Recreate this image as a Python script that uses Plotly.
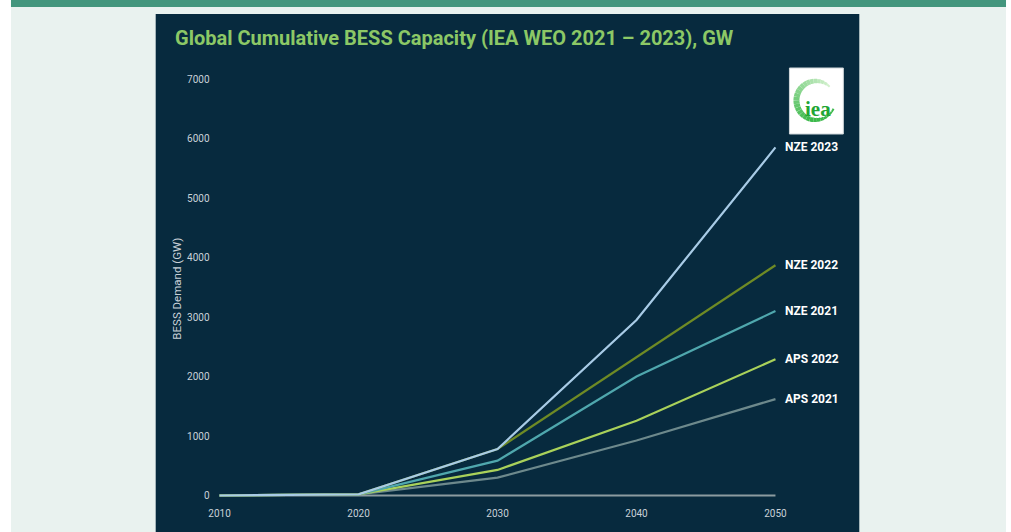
import numpy as np
import plotly.graph_objects as go

W, H = 1011, 532

years = [2010, 2020, 2030, 2040, 2050]
nze_2023 = [0, 20, 780, 2950, 5850]
nze_2022 = [0, 20, 780, 2320, 3870]
nze_2021 = [0, 20, 585, 2000, 3100]
aps_2022 = [0, 20, 430, 1255, 2290]
aps_2021 = [0, 20, 300, 925, 1620]

series = [
    ("APS 2021", aps_2021, "#6d898c"),
    ("APS 2022", aps_2022, "#a9d15a"),
    ("NZE 2021", nze_2021, "#4fa7ad"),
    ("NZE 2022", nze_2022, "#6e8a25"),
    ("NZE 2023", nze_2023, "#a8cbe6"),
]

y_ticks = [0, 1000, 2000, 3000, 4000, 5000, 6000, 7000]
x_ticks = [2010, 2020, 2030, 2040, 2050]

BG = "#072a3e"
TICK_COLOR = "#c9d1d8"
FONT = "Roboto, sans-serif"


def px(x, y):
    """Pixel position -> paper fraction."""
    return x / W, 1 - y / H


fig = go.Figure()

for name, vals, color in series:
    fig.add_trace(go.Scatter(
        x=years, y=vals, mode="lines", name=name,
        line=dict(color=color, width=2.2),
        hoverinfo="x+y+name",
    ))
    fig.add_annotation(
        x=years[-1], y=vals[-1], xref="x", yref="y",
        text=f"<b>{name}</b>", showarrow=False,
        xanchor="left", yanchor="middle", xshift=8,
        font=dict(family=FONT, size=12, color="#ffffff"),
    )

# baseline along zero
fig.add_shape(type="line", xref="x", yref="y", x0=2010, x1=2050, y0=0, y1=0,
              line=dict(color="#8c9ba0", width=2), layer="below")

shapes = []
# page background and header strip
x0, y0 = px(9, 0)
x1, y1 = px(1006, H)
shapes.append(dict(type="rect", xref="paper", yref="paper", x0=x0, x1=x1, y0=y1, y1=y0,
                   fillcolor="#e9f2ef", line=dict(width=0), layer="below"))
x0, y0 = px(9, 0)
x1, y1 = px(1006, 7)
shapes.append(dict(type="rect", xref="paper", yref="paper", x0=x0, x1=x1, y0=y1, y1=y0,
                   fillcolor="#43967d", line=dict(width=0), layer="below"))
# dark chart panel
x0, y0 = px(154, 14)
x1, y1 = px(859, H)
shapes.append(dict(type="rect", xref="paper", yref="paper", x0=x0, x1=x1, y0=y1, y1=y0,
                   fillcolor=BG, line=dict(width=0), layer="below"))
# logo box
x0, y0 = px(789, 68)
x1, y1 = px(843, 134)
shapes.append(dict(type="rect", xref="paper", yref="paper", x0=x0, x1=x1, y0=y1, y1=y0,
                   fillcolor="#ffffff", line=dict(color="#d0d6da", width=1), layer="above"))

# logo ring, drawn as short arc segments shading from pale to deep green
cx, cy, r = 815.5, 100.5, 19.5
n_seg = 28
a_start, a_end = np.deg2rad(45), np.deg2rad(335)
pale = np.array([210, 240, 205])
deep = np.array([60, 185, 75])
for i in range(n_seg):
    t0 = a_start + (a_end - a_start) * i / n_seg
    t1 = a_start + (a_end - a_start) * (i + 1) / n_seg
    ts = np.linspace(t0, t1, 4)
    pts = [px(cx + r * np.cos(t), cy - r * np.sin(t)) for t in ts]
    path = "M " + " L ".join(f"{p[0]:.5f},{p[1]:.5f}" for p in pts)
    f = i / (n_seg - 1)
    c = (pale + (deep - pale) * min(1, f * 1.4)).astype(int)
    w = 2 + 4 * np.sin(np.pi * min(1, f * 1.1)) ** 0.7
    shapes.append(dict(type="path", xref="paper", yref="paper", path=path,
                       line=dict(color=f"rgb({c[0]},{c[1]},{c[2]})", width=w),
                       layer="above"))

for s in shapes:
    fig.add_shape(**s)

lx, ly = px(818, 109)
fig.add_annotation(x=lx, y=ly, xref="paper", yref="paper", text="<b>iea</b>",
                   showarrow=False, xanchor="center", yanchor="middle",
                   font=dict(family="Liberation Serif, DejaVu Serif, serif", size=21,
                             color="#22a634"))

# chart title
tx, ty = px(171, 38)
fig.add_annotation(x=tx, y=ty, xref="paper", yref="paper",
                   text="<b>Global Cumulative BESS Capacity (IEA WEO 2021 \u2013 2023), GW</b>",
                   showarrow=False, xanchor="left", yanchor="middle",
                   font=dict(family=FONT, size=20, color="#8cc866"))

# y-axis title
ax_, ay_ = px(175, 289)
fig.add_annotation(x=ax_, y=ay_, xref="paper", yref="paper", text="BESS Demand (GW)",
                   showarrow=False, textangle=-90, xanchor="center", yanchor="middle",
                   font=dict(family=FONT, size=11.5, color=TICK_COLOR))

# axes geometry: 2010 -> 218 px, 2050 -> 775 px; 0 -> 495.5 px, 7000 -> 79 px
ppy = (775 - 218) / 40.0
ppv = (495.5 - 79) / 7000.0
xr = [2010 - 9 / ppy, 2050 + 12 / ppy]
yr = [-10 / ppv, 7000 + 10 / ppv]
dom_x = [(218 - 9) / W, (775 + 12) / W]
dom_y = [(H - (495.5 + 10)) / H, (H - (79 - 10)) / H]

fig.update_layout(
    width=W, height=H,
    margin=dict(l=0, r=0, t=0, b=0),
    paper_bgcolor="#ffffff",
    plot_bgcolor="rgba(0,0,0,0)",
    showlegend=False,
    xaxis=dict(domain=dom_x, range=xr, tickvals=x_ticks, showgrid=False,
               zeroline=False, showline=False, ticks="",
               tickfont=dict(family=FONT, size=10, color=TICK_COLOR)),
    yaxis=dict(domain=dom_y, range=yr, tickvals=y_ticks, showgrid=False,
               zeroline=False, showline=False, ticks="",
               tickfont=dict(family=FONT, size=10, color=TICK_COLOR)),
)

fig.write_html("out.html")
